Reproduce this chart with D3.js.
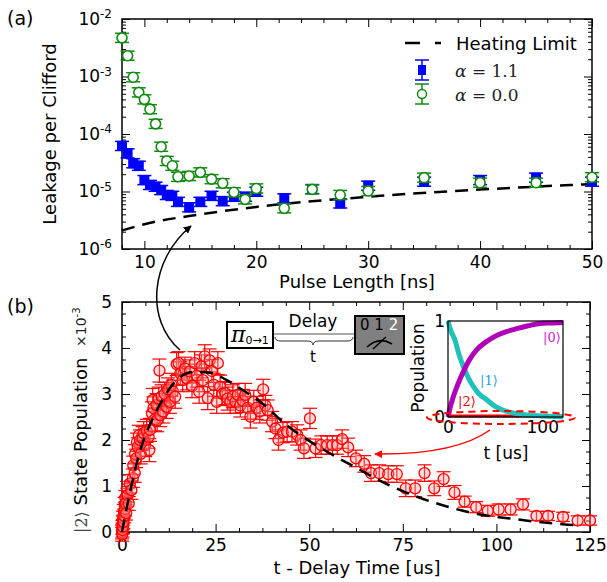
<!DOCTYPE html>
<html>
<head>
<meta charset="utf-8">
<script src="https://d3js.org/d3.v7.min.js"></script>
<style>
  body { margin: 0; background: #fff; }
  svg { font-family: "DejaVu Sans", sans-serif; }
  .axis line { stroke: #000; stroke-width: 1; }
  .axis text { font-size: 17px; fill: #000; font-family: "DejaVu Sans", sans-serif; }
</style>
</head>
<body>
<svg id="fig" width="607" height="582"></svg>
<script>
// ---- panel (a): leakage per Clifford vs pulse length ----
const pulseB = [8, 8.5, 9, 9.5, 10, 10.5, 11, 11.5, 12, 12.5, 13, 14, 15, 16, 17, 18, 19, 20, 22.5, 25, 27.5, 30, 35, 40, 45, 50];
const leakB = [6.2e-5, 4.6e-5, 3.1e-5, 2.8e-5, 1.58e-5, 1.3e-5, 1.21e-5, 1.06e-5, 8.7e-6, 8.4e-6, 6.6e-6, 5.3e-6, 6.6e-6,
  8.4e-6, 6.8e-6, 8.1e-6, 8.1e-6, 9.9e-6, 7.6e-6, 1.1e-5, 6.2e-6, 1.26e-5, 1.48e-5, 1.58e-5, 1.74e-5, 1.48e-5];
const pulseG = [8, 8.5, 9, 9.5, 10, 10.5, 11, 11.5, 12, 12.5, 13, 14, 15, 16, 17, 18, 19, 20, 22.5, 25, 27.5, 30, 35, 40, 45, 50];
const leakG = [4.7e-3, 2.3e-3, 9.7e-4, 5.3e-4, 4.0e-4, 2.7e-4, 1.5e-4, 6.0e-5, 3.4e-5, 2.8e-5, 1.8e-5, 1.86e-5, 2.15e-5,
  1.64e-5, 1.39e-5, 9.7e-6, 7.3e-6, 1.13e-5, 5.1e-6, 1.09e-5, 8.7e-6, 1.02e-5, 1.74e-5, 1.42e-5, 1.42e-5, 1.77e-5];
const leakErr = 0.2; // relative error bar size
const heatX = [8, 10, 15, 20, 30, 40, 50];
const heatY = [2.1e-6, 2.7e-6, 4.0e-6, 5.4e-6, 8.1e-6, 1.08e-5, 1.35e-5];

// ---- panel (b): |2> population vs delay ----
const tB = [0, 0.05, 0.1, 0.15, 0.2, 0.25, 0.3, 0.4, 0.5, 0.6,
  0.7, 0.8, 0.9, 1.0, 1.1, 1.3, 1.5, 1.8, 2.1, 2.5,
  2.9, 3.0, 3.4, 3.5, 3.8, 4.0, 4.2, 4.5, 4.8, 5.0,
  5.5, 5.8, 6.2, 6.6, 7.1, 7.3, 7.5, 8.0, 8.2, 8.4,
  8.8, 9.2, 9.4, 9.8, 10.0, 10.2, 10.6, 11.0, 11.4, 11.9,
  12.3, 12.8, 13.2, 13.6, 14.2, 14.6, 15.1, 15.6, 16.2, 16.8,
  17.3, 18.1, 18.7, 19.4, 20.0, 20.6, 21.2, 21.6, 22.1, 22.9,
  23.4, 24.0, 24.5, 25.3, 25.6, 26.2, 26.8, 27.6, 28.2, 28.9,
  29.6, 30.3, 30.9, 31.6, 32.3, 32.9, 33.6, 34.3, 35.2, 36.0,
  36.8, 37.7, 38.3, 38.9, 40.1, 41.0, 41.8, 43.0, 44.1, 45.4,
  46.8, 47.7, 48.6, 50.2, 51.7, 53.2, 54.8, 56.2, 57.5, 58.8,
  60.4, 62.5, 64.7, 66.5, 68.7, 71.1, 73.4, 75.8, 78.3, 80.8,
  83.4, 85.9, 88.8, 91.5, 94.6, 97.7, 100.6, 103.8, 107.1, 110.7,
  113.8, 117.8, 121.7, 125];
const vB = [0.00, -0.05, 0.10, 0.04, 0.20, 0.12, 0.30, 0.22, 0.45, 0.35,
  0.60, 0.50, 0.75, 0.62, 0.41, 0.95, 0.80, 0.62, 1.05, 0.91,
  1.17, 1.45, 1.28, 1.70, 1.60, 1.95, 1.85, 2.10, 2.00, 1.70,
  2.04, 2.15, 1.89, 2.20, 2.07, 1.78, 2.22, 2.58, 2.87, 2.69,
  2.45, 2.76, 2.43, 2.90, 3.51, 2.54, 2.95, 2.62, 3.00, 2.72,
  3.10, 2.83, 3.20, 3.05, 2.94, 3.65, 3.67, 3.45, 3.30, 3.55,
  3.34, 3.49, 3.17, 3.67, 3.40, 3.05, 3.60, 3.30, 3.82, 2.91,
  3.73, 3.50, 3.20, 2.83, 3.67, 3.16, 3.00, 3.02, 2.90, 2.83,
  2.95, 2.83, 2.98, 2.75, 2.85, 2.98, 2.70, 2.51, 2.83, 2.70,
  2.62, 3.10, 2.75, 2.65, 2.40, 2.25, 2.00, 2.16, 2.18, 2.18,
  2.11, 2.00, 1.82, 2.47, 1.82, 1.89, 1.89, 1.89, 1.89, 2.02,
  1.84, 1.60, 1.48, 1.28, 1.28, 1.26, 1.26, 0.95, 0.95, 1.28,
  0.95, 1.15, 0.86, 0.66, 0.54, 0.46, 0.49, 0.49, 0.60, 0.35,
  0.35, 0.33, 0.25, 0.25];
const eB = [0.15, 0.15, 0.15, 0.15, 0.15, 0.15, 0.15, 0.15, 0.15, 0.15,
  0.15, 0.15, 0.15, 0.15, 0.15, 0.15, 0.15, 0.15, 0.2, 0.2,
  0.2, 0.2, 0.2, 0.2, 0.2, 0.2, 0.2, 0.22, 0.22, 0.22,
  0.25, 0.25, 0.25, 0.25, 0.25, 0.25, 0.25, 0.25, 0.25, 0.25,
  0.25, 0.25, 0.25, 0.25, 0.25, 0.25, 0.25, 0.25, 0.25, 0.25,
  0.25, 0.25, 0.25, 0.25, 0.25, 0.25, 0.25, 0.25, 0.25, 0.25,
  0.25, 0.25, 0.25, 0.25, 0.25, 0.25, 0.25, 0.25, 0.25, 0.25,
  0.25, 0.25, 0.25, 0.25, 0.25, 0.25, 0.25, 0.25, 0.25, 0.25,
  0.25, 0.25, 0.25, 0.25, 0.25, 0.25, 0.25, 0.25, 0.25, 0.25,
  0.25, 0.22, 0.22, 0.22, 0.22, 0.22, 0.22, 0.22, 0.22, 0.22,
  0.22, 0.22, 0.22, 0.22, 0.2, 0.2, 0.2, 0.2, 0.2, 0.2,
  0.2, 0.18, 0.18, 0.18, 0.18, 0.18, 0.18, 0.18, 0.18, 0.18,
  0.16, 0.16, 0.15, 0.12, 0.12, 0.12, 0.12, 0.12, 0.12, 0.1,
  0.1, 0.1, 0.1, 0.1];
const fitT = [0, 1.7, 3.5, 5.7, 8.4, 11.5, 14.6, 19, 23.6, 27.6, 31.2, 37.4, 44, 50, 56.6, 62.5, 71, 79, 87, 95, 103, 111, 119, 121];
const fitV = [0, 0.70, 1.35, 1.98, 2.5, 2.97, 3.3, 3.48, 3.46, 3.32, 3.14, 2.8, 2.32, 1.98, 1.66, 1.40, 1.03, 0.76, 0.55, 0.39, 0.30, 0.22, 0.16, 0.15];

// ---- inset: populations ----
const insT0 = [0, 2, 5.6, 10, 16.2, 23, 30.4, 40, 51.6, 62, 72.9, 85, 97.6, 110, 122];
const insP0 = [0, 0.09, 0.21, 0.33, 0.47, 0.6, 0.70, 0.78, 0.85, 0.89, 0.92, 0.95, 0.975, 0.98, 0.985];
const insT1 = [0, 3, 7.4, 12, 17, 22, 26.8, 33, 41, 50, 58.6, 70, 83.5, 100, 122];
const insP1 = [1, 0.9, 0.80, 0.64, 0.51, 0.40, 0.32, 0.24, 0.18, 0.11, 0.07, 0.04, 0.02, 0.01, 0.0];
const insT2 = [0, 122];
const insP2 = [0.01, 0.01];

const svg = d3.select("#fig");
const tickCls = g => g.attr("class", "axis").call(g => g.select(".domain").remove());

function ticks(axisFn, scale, vals, size, translate, fmt) {
  const ax = axisFn(scale).tickValues(vals).tickSize(-size).tickSizeOuter(0);
  if (fmt === undefined) ax.tickFormat("");
  else ax.tickFormat(fmt);
  return svg.append("g").attr("transform", translate).call(ax).call(tickCls);
}

// ================= panel (a) =================
const xA = d3.scaleLinear().domain([8, 50]).range([122, 592]);
const yA = d3.scaleLog().domain([1e-6, 1e-2]).range([249, 19]);

const xMajA = [10, 20, 30, 40, 50];
const xMinA = d3.range(8, 51, 2).filter(v => v % 10 !== 0);
const yMajA = [1e-6, 1e-5, 1e-4, 1e-3, 1e-2];
const yMinA = [];
[-6, -5, -4, -3].forEach(d => { for (let k = 2; k <= 9; k++) yMinA.push(k * Math.pow(10, d)); });

ticks(d3.axisBottom, xA, xMajA, 8, "translate(0,249)", d3.format("d")).call(g => g.selectAll("text").attr("dy", "0.71em").attr("y", 7));
ticks(d3.axisBottom, xA, xMinA, 4, "translate(0,249)");
ticks(d3.axisTop, xA, xMajA, 8, "translate(0,19)");
ticks(d3.axisTop, xA, xMinA, 4, "translate(0,19)");
const yAx = ticks(d3.axisLeft, yA, yMajA, 8, "translate(122,0)", d => "10");
yAx.selectAll("text").attr("x", -10).each(function (d) {
  d3.select(this).append("tspan").attr("dy", "-0.55em").attr("font-size", "12px").text(String(Math.round(Math.log10(d))));
});
ticks(d3.axisLeft, yA, yMinA, 4, "translate(122,0)");
ticks(d3.axisRight, yA, yMajA, 8, "translate(592,0)");
ticks(d3.axisRight, yA, yMinA, 4, "translate(592,0)");

svg.append("rect").attr("x", 122).attr("y", 19).attr("width", 470).attr("height", 230)
  .attr("fill", "none").attr("stroke", "#000").attr("stroke-width", 1.5);

// heating limit
svg.append("path")
  .datum(heatX.map((x, i) => [x, heatY[i]]))
  .attr("d", d3.line().x(d => xA(d[0])).y(d => yA(d[1])).curve(d3.curveMonotoneX))
  .attr("fill", "none").attr("stroke", "#000").attr("stroke-width", 2.5).attr("stroke-dasharray", "13,8");

function errA(data, color) {
  const g = svg.append("g").attr("stroke", color).attr("stroke-width", 1.5);
  data.forEach(d => {
    const x = xA(d[0]), y1 = yA(d[1] * (1 + leakErr)), y0 = yA(d[1] / (1 + leakErr));
    g.append("line").attr("x1", x).attr("x2", x).attr("y1", y0).attr("y2", y1);
    g.append("line").attr("x1", x - 7).attr("x2", x + 7).attr("y1", y0).attr("y2", y0);
    g.append("line").attr("x1", x - 7).attr("x2", x + 7).attr("y1", y1).attr("y2", y1);
  });
}
const dataB = pulseB.map((x, i) => [x, leakB[i]]);
const dataG = pulseG.map((x, i) => [x, leakG[i]]);
errA(dataB, "#0000ff");
svg.append("g").selectAll("rect").data(dataB).join("rect")
  .attr("x", d => xA(d[0]) - 5).attr("y", d => yA(d[1]) - 5).attr("width", 10).attr("height", 10)
  .attr("fill", "#0000ff");
errA(dataG, "#118a11");
svg.append("g").selectAll("circle").data(dataG).join("circle")
  .attr("cx", d => xA(d[0])).attr("cy", d => yA(d[1])).attr("r", 5)
  .attr("fill", "#fff").attr("stroke", "#118a11").attr("stroke-width", 1.6);

// legend (a)
svg.append("path").attr("d", "M405,43L441,43").attr("stroke", "#000").attr("stroke-width", 2.5).attr("stroke-dasharray", "15,15");
svg.append("text").attr("x", 456).attr("y", 50).attr("font-size", 18).text("Heating Limit");
[[70, "#0000ff", "1.1"], [94, "#118a11", "0.0"]].forEach(([cy, col, lab], i) => {
  const g = svg.append("g").attr("stroke", col).attr("stroke-width", 1.5);
  g.append("line").attr("x1", 422).attr("x2", 422).attr("y1", cy - 10).attr("y2", cy + 10);
  g.append("line").attr("x1", 415).attr("x2", 429).attr("y1", cy - 10).attr("y2", cy - 10);
  g.append("line").attr("x1", 415).attr("x2", 429).attr("y1", cy + 10).attr("y2", cy + 10);
  if (i === 0) g.append("rect").attr("x", 418).attr("y", cy - 5).attr("width", 8).attr("height", 10).attr("fill", col).attr("stroke", "none");
  else g.append("circle").attr("cx", 422).attr("cy", cy).attr("r", 4.5).attr("fill", "#fff");
  const t = svg.append("text").attr("x", 455).attr("y", cy + 7).attr("font-family", "DejaVu Serif, serif").attr("font-size", 17).attr("fill", "#222");
  t.append("tspan").attr("font-style", "italic").text("α");
  t.append("tspan").text(" = " + lab);
});

svg.append("text").attr("x", 357).attr("y", 288).attr("text-anchor", "middle").attr("font-size", 18).text("Pulse Length [ns]");
svg.append("text").attr("transform", "translate(56,134) rotate(-90)").attr("text-anchor", "middle").attr("font-size", 18).text("Leakage per Clifford");
svg.append("text").attr("x", 7).attr("y", 25).attr("font-size", 19).text("(a)");

// ================= panel (b) =================
const xB = d3.scaleLinear().domain([0, 125]).range([122, 590]);
const yB = d3.scaleLinear().domain([0, 5]).range([532, 302]);
const xMajB = [0, 25, 50, 75, 100, 125];
const xMinB = d3.range(0, 125.1, 6.25).filter(v => v % 25 !== 0);
const yMajB = [0, 1, 2, 3, 4, 5];
const yMinB = d3.range(0, 5.01, 0.25).filter(v => v % 1 !== 0);

ticks(d3.axisBottom, xB, xMajB, 8, "translate(0,532)", d3.format("d")).call(g => g.selectAll("text").attr("y", 7));
ticks(d3.axisBottom, xB, xMinB, 4, "translate(0,532)");
ticks(d3.axisTop, xB, xMajB, 8, "translate(0,302)");
ticks(d3.axisTop, xB, xMinB, 4, "translate(0,302)");
ticks(d3.axisLeft, yB, yMajB, 8, "translate(122,0)", d3.format("d")).call(g => g.selectAll("text").attr("x", -10));
ticks(d3.axisLeft, yB, yMinB, 4, "translate(122,0)");
ticks(d3.axisRight, yB, yMajB, 8, "translate(590,0)");
ticks(d3.axisRight, yB, yMinB, 4, "translate(590,0)");
svg.append("rect").attr("x", 122).attr("y", 302).attr("width", 468).attr("height", 230)
  .attr("fill", "none").attr("stroke", "#000").attr("stroke-width", 1.5);

const dataP = tB.map((t, i) => [t, vB[i], eB[i]]);
const ge = svg.append("g").attr("stroke", "#ff0000").attr("stroke-width", 1.2);
dataP.forEach(d => {
  const x = xB(d[0]), y0 = yB(d[1] - d[2]), y1 = yB(d[1] + d[2]);
  ge.append("line").attr("x1", x).attr("x2", x).attr("y1", y0).attr("y2", y1);
  ge.append("line").attr("x1", x - 7).attr("x2", x + 7).attr("y1", y0).attr("y2", y0);
  ge.append("line").attr("x1", x - 7).attr("x2", x + 7).attr("y1", y1).attr("y2", y1);
});
svg.append("g").selectAll("circle").data(dataP).join("circle")
  .attr("cx", d => xB(d[0])).attr("cy", d => yB(d[1])).attr("r", 5.5)
  .attr("fill", "rgba(255,150,150,0.35)").attr("stroke", "#ff0000").attr("stroke-width", 1.3);

svg.append("path")
  .datum(fitT.map((t, i) => [t, fitV[i]]))
  .attr("d", d3.line().x(d => xB(d[0])).y(d => yB(d[1])).curve(d3.curveMonotoneX))
  .attr("fill", "none").attr("stroke", "#000").attr("stroke-width", 2.5).attr("stroke-dasharray", "13,8");

svg.append("text").attr("x", 357).attr("y", 574).attr("text-anchor", "middle").attr("font-size", 18).text("t - Delay Time [us]");
const yl = svg.append("text").attr("transform", "translate(87,533) rotate(-90)").attr("font-size", 18);
yl.append("tspan").attr("font-family", "DejaVu Serif, serif").attr("fill", "#444").attr("font-size", 16).text("|2⟩");
yl.append("tspan").text(" State Population");
const yl2 = svg.append("text").attr("transform", "translate(86,347) rotate(-90)").attr("font-size", 14).attr("fill", "#222");
yl2.append("tspan").text("×10");
yl2.append("tspan").attr("dy", "-0.6em").attr("font-size", 10).text("-3");
svg.append("text").attr("x", 7).attr("y", 313).attr("font-size", 19).text("(b)");

// pulse schematic
svg.append("line").attr("x1", 273).attr("x2", 355).attr("y1", 334).attr("y2", 334).attr("stroke", "#555").attr("stroke-width", 1.2);
svg.append("rect").attr("x", 227).attr("y", 322).attr("width", 46).attr("height", 26).attr("fill", "#fff").attr("stroke", "#000").attr("stroke-width", 2);
const pi = svg.append("text").attr("x", 231).attr("y", 342);
pi.append("tspan").attr("font-family", "DejaVu Serif, serif").attr("font-style", "italic").attr("font-size", 22).text("π");
pi.append("tspan").attr("font-size", 11).attr("dy", 2).text("0→1");
svg.append("text").attr("x", 313).attr("y", 327).attr("text-anchor", "middle").attr("font-size", 17).text("Delay");
svg.append("path").attr("d", "M275,337 Q275,341 281,341 L307,341 Q313,341 313,345 Q313,341 319,341 L347,341 Q353,341 353,337")
  .attr("fill", "none").attr("stroke", "#333").attr("stroke-width", 1);
svg.append("text").attr("x", 313).attr("y", 362).attr("text-anchor", "middle").attr("font-size", 15).text("t");
svg.append("rect").attr("x", 355).attr("y", 316).attr("width", 49).attr("height", 38).attr("fill", "#808080").attr("stroke", "#000").attr("stroke-width", 2);
const lv = svg.append("text").attr("x", 360).attr("y", 330).attr("font-size", 15);
lv.append("tspan").text("0 1 ");
lv.append("tspan").attr("fill", "#fff").text("2");
svg.append("path").attr("d", "M367,347 Q379,336 392,344 M373,349 L386,337")
  .attr("fill", "none").attr("stroke", "#000").attr("stroke-width", 1.5);

// ================= inset =================
const xI = d3.scaleLinear().domain([0, 122]).range([448, 563]);
const yI = d3.scaleLinear().domain([0, 1]).range([417, 321]);
svg.append("rect").attr("x", 448).attr("y", 321).attr("width", 115).attr("height", 96).attr("fill", "#fff");
const lineI = d3.line().x(d => xI(d[0])).y(d => yI(d[1])).curve(d3.curveMonotoneX);
svg.append("path").datum(insT2.map((t, i) => [t, insP2[i]])).attr("d", lineI)
  .attr("fill", "none").attr("stroke", "#e00000").attr("stroke-width", 3);
svg.append("path").datum(insT1.map((t, i) => [t, insP1[i]])).attr("d", lineI)
  .attr("fill", "none").attr("stroke", "#20c0bb").attr("stroke-width", 5);
svg.append("path").datum(insT0.map((t, i) => [t, insP0[i]])).attr("d", lineI)
  .attr("fill", "none").attr("stroke", "#b000b8").attr("stroke-width", 5);
svg.append("rect").attr("x", 448).attr("y", 321).attr("width", 115).attr("height", 96)
  .attr("fill", "none").attr("stroke", "#000").attr("stroke-width", 1.2);
ticks(d3.axisBottom, xI, [0, 100], 0, "translate(0,417)", d3.format("d")).call(g => g.selectAll("text").attr("y", 4));
ticks(d3.axisLeft, yI, [0, 1], 0, "translate(448,0)", d3.format("d")).call(g => g.selectAll("text").attr("x", -3));
svg.append("text").attr("x", 506).attr("y", 459).attr("text-anchor", "middle").attr("font-size", 17).text("t [us]");
svg.append("text").attr("transform", "translate(424,368) rotate(-90)").attr("text-anchor", "middle").attr("font-size", 17).text("Population");
svg.append("text").attr("x", 543).attr("y", 342).attr("font-family", "DejaVu Serif, serif").attr("font-size", 13).attr("fill", "#d020d0").text("|0⟩");
svg.append("text").attr("x", 480).attr("y", 385).attr("font-family", "DejaVu Serif, serif").attr("font-size", 13).attr("fill", "#2aa0e0").text("|1⟩");
svg.append("text").attr("x", 458).attr("y", 406).attr("font-family", "DejaVu Serif, serif").attr("font-size", 13).attr("fill", "#e00000").text("|2⟩");
svg.append("ellipse").attr("cx", 501).attr("cy", 417.5).attr("rx", 74).attr("ry", 6.5)
  .attr("fill", "none").attr("stroke", "#ff0000").attr("stroke-width", 2).attr("stroke-dasharray", "7,5");

// arrows
const defs = svg.append("defs");
[["ahk", "#000"], ["ahr", "#ff0000"]].forEach(([id, c]) => {
  defs.append("marker").attr("id", id).attr("viewBox", "0 0 10 10").attr("refX", 9).attr("refY", 5)
    .attr("markerWidth", 8).attr("markerHeight", 8).attr("markerUnits", "userSpaceOnUse").attr("orient", "auto")
    .append("path").attr("d", "M0,0 L10,5 L0,10 Z").attr("fill", c);
});
svg.append("path").attr("d", "M180,350 C145,320 150,260 191,226")
  .attr("fill", "none").attr("stroke", "#000").attr("stroke-width", 1.5).attr("marker-end", "url(#ahk)");
svg.append("path").attr("d", "M490,430 Q455,455 375,454")
  .attr("fill", "none").attr("stroke", "#ff0000").attr("stroke-width", 1.5).attr("marker-end", "url(#ahr)");
</script>
</body>
</html>
